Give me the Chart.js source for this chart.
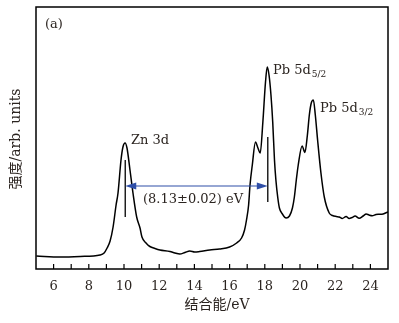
<!DOCTYPE html>
<html>
<head>
<meta charset="utf-8">
<script src="https://cdn.jsdelivr.net/npm/chart.js@4/dist/chart.umd.min.js"></script>
<style>
  body { margin: 0; background: #fff; }
  #wrap { width: 399px; height: 323px; }
</style>
</head>
<body>
<div id="wrap"><canvas id="xps"></canvas></div>
<script>
// binding energy (eV) and intensity (arb. units)
const energy = [
  5.02, 6.38, 7.51, 8.64, 8.87, 9.04, 9.21, 9.38, 9.55, 9.66, 9.83, 9.94, 10.06, 10.17,
  10.34, 10.51, 10.72, 10.91, 11.02, 11.25, 11.47, 11.76, 12.04, 12.61, 12.89, 13.17,
  13.46, 13.74, 14.02, 14.30, 14.87, 15.43, 16.0, 16.4, 16.68, 16.85, 16.96, 17.08,
  17.16, 17.29, 17.47, 17.61, 17.74, 17.89, 18.04, 18.14, 18.24, 18.35, 18.45, 18.55,
  18.63, 18.74, 18.83, 19.0, 19.21, 19.40, 19.57, 19.68, 19.79, 19.90, 20.12, 20.28,
  20.42, 20.53, 20.64, 20.76, 20.87, 21.0, 21.19, 21.38, 21.66, 21.85, 22.06, 22.23,
  22.40, 22.62, 22.79, 22.96, 23.13, 23.36, 23.59, 23.76, 23.92, 24.1, 24.32, 24.49,
  24.72, 24.89, 25.0
];
const intensity = [
  13, 12, 12.5, 14, 16, 21, 28, 42, 64, 76, 109, 122, 126, 121,
  99, 76, 52, 41, 32, 26, 22.5, 20.5, 19, 17.5, 16, 15,
  16.5, 18, 17, 17.5, 19, 20, 22, 26, 31, 39, 49, 64,
  84, 104, 127, 121, 116, 147, 187, 202, 194, 174, 147, 109,
  89, 71, 61, 55, 51, 53, 61, 72, 89, 104, 123, 116.5,
  134, 154, 166, 169, 154, 129, 96, 72, 56, 53.5, 52.5, 52,
  50.5, 52.5, 50.5, 51.5, 53, 50.7, 53, 55, 54, 53.3, 54.5, 54.7,
  55, 56.3, 57
];
const xTicks = [6, 8, 10, 12, 14, 16, 18, 20, 22, 24];

// peak markers and the spacing arrow
const znPeak = 10.07, pbPeak = 18.17;
const znMark = [52, 109], pbMark = [67, 132];
const arrowY = 83;
const gapText = '(8.13±0.02) eV';

const serif = '"DejaVu Serif", "Noto Sans CJK SC", serif';
const ink = '#2b2420';

const overlay = {
  id: 'overlay',
  afterDatasetsDraw(chart) {
    const { ctx, chartArea: a, scales: { x, y } } = chart;
    ctx.save();
    // frame
    ctx.strokeStyle = '#000';
    ctx.lineWidth = 1.5;
    ctx.strokeRect(a.left, a.top, a.right - a.left, a.bottom - a.top);
    // inward ticks
    ctx.lineWidth = 1.2;
    for (let v = 6; v <= 24; v++) {
      const px = x.getPixelForValue(v);
      ctx.beginPath();
      ctx.moveTo(px, a.bottom);
      ctx.lineTo(px, a.bottom - 5);
      ctx.stroke();
    }
    // peak markers
    ctx.lineWidth = 1.3;
    [[znPeak, znMark], [pbPeak, pbMark]].forEach(([e, m]) => {
      const px = x.getPixelForValue(e);
      ctx.beginPath();
      ctx.moveTo(px, y.getPixelForValue(m[0]));
      ctx.lineTo(px, y.getPixelForValue(m[1]));
      ctx.stroke();
    });
    // double arrow
    const x1 = x.getPixelForValue(znPeak), x2 = x.getPixelForValue(pbPeak);
    const ay = y.getPixelForValue(arrowY);
    ctx.strokeStyle = ctx.fillStyle = '#2f4fa8';
    ctx.lineWidth = 1.2;
    ctx.beginPath();
    ctx.moveTo(x1 + 4, ay);
    ctx.lineTo(x2 - 4, ay);
    ctx.stroke();
    ctx.beginPath();
    ctx.moveTo(x1, ay); ctx.lineTo(x1 + 11, ay - 3.5); ctx.lineTo(x1 + 11, ay + 3.5);
    ctx.closePath(); ctx.fill();
    ctx.beginPath();
    ctx.moveTo(x2, ay); ctx.lineTo(x2 - 11, ay - 3.5); ctx.lineTo(x2 - 11, ay + 3.5);
    ctx.closePath(); ctx.fill();

    // labels
    ctx.fillStyle = ink;
    ctx.textBaseline = 'middle';
    ctx.textAlign = 'left';
    ctx.font = '13px ' + serif;
    ctx.fillText('(a)', 45, 25);
    ctx.fillText('Zn 3d', 131, 141);
    ctx.fillText(gapText, 143, 200);
    const sub = (main, s, px, py) => {
      ctx.font = '13px ' + serif;
      ctx.fillText(main, px, py);
      const w = ctx.measureText(main).width;
      ctx.font = '9px ' + serif;
      ctx.fillText(s, px + w + 1, py + 4);
    };
    sub('Pb 5d', '5/2', 273, 71);
    sub('Pb 5d', '3/2', 320, 109);

    // axis titles
    ctx.font = '14px ' + serif;
    ctx.textAlign = 'center';
    ctx.fillText('结合能/eV', (a.left + a.right) / 2 + 5, 305);
    ctx.translate(16, 139);
    ctx.rotate(-Math.PI / 2);
    ctx.fillText('强度/arb. units', 0, 0);
    ctx.restore();
  }
};

new Chart(document.getElementById('xps'), {
  type: 'line',
  data: {
    datasets: [{
      data: energy.map((e, i) => ({ x: e, y: intensity[i] })),
      borderColor: '#000',
      borderWidth: 1.5,
      pointRadius: 0,
      cubicInterpolationMode: 'monotone',
      fill: false
    }]
  },
  options: {
    responsive: true,
    maintainAspectRatio: false,
    animation: false,
    layout: { padding: { left: 36, right: 11, top: 7, bottom: 0 } },
    plugins: { legend: { display: false }, tooltip: { enabled: false } },
    scales: {
      x: {
        type: 'linear',
        min: 5,
        max: 25,
        afterFit(scale) { scale.height = 54; },
        afterBuildTicks(scale) { scale.ticks = xTicks.map(v => ({ value: v })); },
        grid: { display: false, drawTicks: false },
        border: { display: false },
        ticks: { padding: 10, color: ink, font: { family: serif, size: 13 } }
      },
      y: { display: false, min: 0, max: 262 }
    }
  },
  plugins: [overlay]
});
</script>
</body>
</html>
